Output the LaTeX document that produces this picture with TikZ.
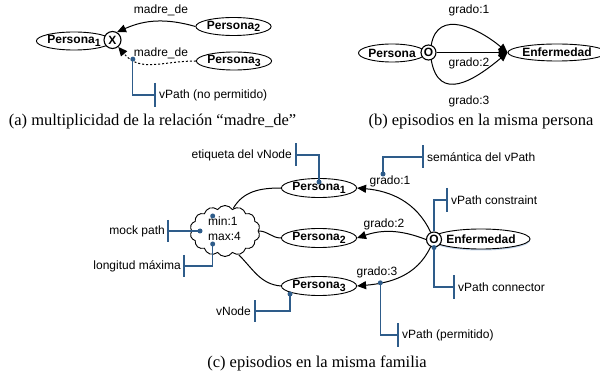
\documentclass[tikz,border=0pt]{standalone}
\usepackage{fontspec}
\setmainfont{Liberation Serif}
\setsansfont{Liberation Sans}
\usetikzlibrary{shapes.geometric,shapes.symbols,arrows.meta,shadows}
\definecolor{callblue}{HTML}{2E5C8A}
\definecolor{glowblue}{HTML}{B4CCE8}
% subscript index inside entity labels
\newcommand{\psub}[1]{\raisebox{-2.5pt}{\fontsize{10.5}{10}\selectfont #1}}

\begin{document}
\begin{tikzpicture}[x=1pt,y=1pt,
  lbl/.style={font=\fontsize{12}{15}\selectfont\sffamily, inner sep=0pt},
  entity/.style={ellipse, draw, fill=white, line width=0.9pt, inner sep=0pt,
    minimum height=18pt, font=\fontsize{12}{14}\selectfont\sffamily\bfseries},
  ctr/.style={circle, draw, fill=white, line width=1.1pt, inner sep=0pt,
    minimum size=15pt, font=\fontsize{12}{14}\selectfont\sffamily\bfseries},
  rel/.style={line width=1pt, -{Triangle[length=9pt,width=8pt]}},
  link/.style={line width=1pt},
  callout/.style={draw=callblue, line width=1.1pt},
  dot/.style={circle, fill=callblue, inner sep=0pt, minimum size=5pt},
  caption/.style={font=\fontsize{16.5}{19}\selectfont\rmfamily, inner sep=0pt}
]
\fill[white] (0,0) rectangle (600,-374);
\useasboundingbox (0,0) rectangle (600,-374);

% ---------------- (a) multiplicity of madre_de ----------------
\node[entity, minimum width=68pt] (p1a) at (74,-41) {Persona\psub{1}};
\node[ctr, minimum size=17pt] (xa) at (112.5,-40) {X};
\node[entity, minimum width=71pt] (p2a) at (233.5,-26.5) {Persona\psub{2}};
\node[entity, minimum width=71pt] (p3a) at (234,-61) {Persona\psub{3}};
\node[lbl] (m1) at (161,-10) {madre\_de};
\node[lbl] (m2) at (161,-53) {madre\_de};
\draw[rel] (p2a.west) to[bend right=20] (xa.60);
\draw[rel, dash pattern=on 2pt off 2pt] (p3a.west) to[out=180,in=-50,looseness=1.1]
  coordinate[pos=0.78] (da) (xa.-50);
\node[lbl, anchor=west] (ta) at (159,-95) {vPath (no permitido)};
\draw[callout] ([xshift=-4pt,yshift=12pt]ta.west) -- ([xshift=-4pt,yshift=-12pt]ta.west);
\draw[callout] (da) |- ([xshift=-4pt]ta.west);
\node[dot] at (da) {};
\node[caption] (capa) at (152.5,-122) {(a) multiplicidad de la relación “madre\_de”};

% ---------------- (b) episodes of one person ----------------
\node[entity, minimum width=67pt] (pb) at (392,-53) {Persona};
\node[ctr] (ob) at (428.5,-52.5) {O};
\node[entity, minimum width=81pt, minimum height=17pt] (eb) at (557,-52.5) {Enfermedad};
\draw[rel] (ob.east) -- (eb.west);
\draw[rel] (ob.70) to[out=80,in=140,looseness=1.25] (eb.west);
\draw[rel] (ob.-70) to[out=-80,in=-140,looseness=1.45] (eb.west);
\node[lbl] (g1b) at (469,-10) {grado:1};
\node[lbl] (g2b) at (469,-63) {grado:2};
\node[lbl] (g3b) at (469,-101) {grado:3};
\node[caption] (capb) at (481,-122) {(b) episodios en la misma persona};

% ---------------- (c) episodes in one family ----------------
\node[cloud, draw, fill=white, line width=0.9pt, cloud puffs=14, cloud puff arc=115,
  aspect=1.35, minimum width=70pt, minimum height=51pt, inner sep=0pt] (cl) at (225,-231) {};
\node[lbl, align=left, anchor=west] (mm) at (208,-229) {min:1\\max:4};
\node[entity, minimum width=72pt, minimum height=19pt] (p1c) at (319,-188) {Persona\psub{1}};
\node[entity, minimum width=72pt, minimum height=19pt] (p2c) at (319,-238) {Persona\psub{2}};
\node[entity, minimum width=72pt, minimum height=19pt] (p3c) at (319,-286) {Persona\psub{3}};
\node[entity, minimum width=80pt, minimum height=20pt,
  drop shadow={shadow xshift=0pt, shadow yshift=-1.5pt, fill=glowblue, opacity=0.8}]
  (ec) at (481,-239) {Enfermedad};
\node[ctr] (oc) at (434,-239.5) {O};

\draw[link] (cl.70) to[out=60,in=180] (p1c.west);
\draw[link] (cl.east) to[out=0,in=180] (p2c.west);
\draw[link] (cl.-60) to[out=-45,in=175] (p3c.west);

\draw[rel] (oc.115) to[out=115,in=-5] (p1c.east);
\draw[rel] (oc.west) to[bend right=20] (p2c.east);
\draw[rel] (oc.-115) to[out=-115,in=5] coordinate[pos=0.75] (dperm) (p3c.east);

\node[lbl] (g1c) at (390,-181) {grado:1};
\node[lbl] (g2c) at (384,-224) {grado:2};
\node[lbl] (g3c) at (377,-272) {grado:3};

% callouts
\coordinate (dtop) at (212.7,-216);
\coordinate (dmock) at (200,-231);
\coordinate (dmax) at (212.7,-244);
\coordinate (dlab) at (319,-182);
\coordinate (dsem) at (383,-174);
\coordinate (dnode) at (290,-294);

\node[lbl, anchor=east] (tmock) at (165,-231) {mock path};
\draw[callout] ([xshift=3pt,yshift=11pt]tmock.east) -- ([xshift=3pt,yshift=-11pt]tmock.east);
\draw[callout] (dmock) -- ([xshift=3pt]tmock.east);

\node[lbl, anchor=east] (tmax) at (181,-266) {longitud máxima};
\draw[callout] ([xshift=3pt,yshift=11pt]tmax.east) -- ([xshift=3pt,yshift=-11pt]tmax.east);
\draw[callout] (dmax) |- ([xshift=3pt]tmax.east);

\node[lbl, anchor=east] (tlab) at (292,-155) {etiqueta del vNode};
\draw[callout] ([xshift=4pt,yshift=11.5pt]tlab.east) -- ([xshift=4pt,yshift=-11.5pt]tlab.east);
\draw[callout] (dlab) |- ([xshift=4pt]tlab.east);

\node[lbl, anchor=west] (tsem) at (427,-157) {semántica del vPath};
\draw[callout] ([xshift=-4pt,yshift=11.5pt]tsem.west) -- ([xshift=-4pt,yshift=-11.5pt]tsem.west);
\draw[callout] (dsem) |- ([xshift=-4pt]tsem.west);

\node[lbl, anchor=west] (tcon) at (451,-200) {vPath constraint};
\draw[callout] ([xshift=-4pt,yshift=12pt]tcon.west) -- ([xshift=-4pt,yshift=-12pt]tcon.west);
\draw[callout] (oc.north) |- ([xshift=-4pt]tcon.west);

\node[lbl, anchor=west] (tconn) at (458,-287) {vPath connector};
\draw[callout] ([xshift=-4pt,yshift=11.5pt]tconn.west) -- ([xshift=-4pt,yshift=-11.5pt]tconn.west);
\draw[callout] (oc.south) |- ([xshift=-4pt]tconn.west);

\node[lbl, anchor=west] (tperm) at (402,-335) {vPath (permitido)};
\draw[callout] ([xshift=-4pt,yshift=12pt]tperm.west) -- ([xshift=-4pt,yshift=-12pt]tperm.west);
\draw[callout] (dperm) |- ([xshift=-4pt]tperm.west);

\node[lbl, anchor=east] (tnode) at (251,-311) {vNode};
\draw[callout] ([xshift=4pt,yshift=11pt]tnode.east) -- ([xshift=4pt,yshift=-11pt]tnode.east);
\draw[callout] (dnode) |- ([xshift=4pt]tnode.east);

\foreach \d in {dtop,dmock,dmax,dlab,dsem,dnode,dperm}
  \node[dot] at (\d) {};
\node[dot] at (oc.south) {};

\node[caption] (capc) at (317,-363) {(c) episodios en la misma familia};
\end{tikzpicture}
\end{document}
